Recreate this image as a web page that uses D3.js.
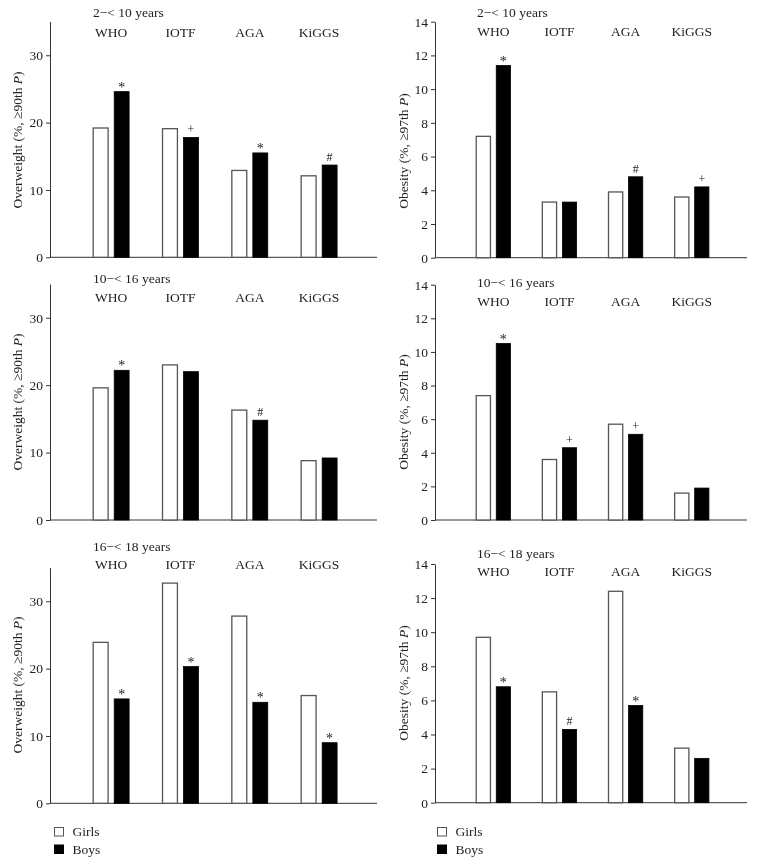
<!DOCTYPE html>
<html>
<head>
<meta charset="utf-8">
<script src="https://cdn.jsdelivr.net/npm/d3@7/dist/d3.min.js"></script>
<style>
  html, body { margin: 0; padding: 0; background: #fff; }
  svg { display: block; filter: grayscale(1); }
  text { font-family: "Liberation Serif", "DejaVu Serif", serif; fill: #222; }
</style>
</head>
<body>
<svg id="chart" width="772" height="865"></svg>
<script>
// ---------------- DATA ----------------
const categories = ["WHO", "IOTF", "AGA", "KiGGS"];
const sexes = ["Girls", "Boys"];
const ageGroups = ["2\u2212< 10 years", "10\u2212< 16 years", "16\u2212< 18 years"];

// Overweight (%, >=90th P), one row per age group
const overweightGirls = [
  [19.2, 19.1, 12.9, 12.1],
  [19.6, 23.0, 16.3, 8.8],
  [23.9, 32.7, 27.8, 16.0]
];
const overweightBoys = [
  [24.6, 17.8, 15.5, 13.7],
  [22.2, 22.0, 14.8, 9.2],
  [15.5, 20.3, 15.0, 9.0]
];
const overweightMarks = [
  ["*", "+", "*", "#"],
  ["*", "", "#", ""],
  ["*", "*", "*", "*"]
];

// Obesity (%, >=97th P)
const obesityGirls = [
  [7.2, 3.3, 3.9, 3.6],
  [7.4, 3.6, 5.7, 1.6],
  [9.7, 6.5, 12.4, 3.2]
];
const obesityBoys = [
  [11.4, 3.3, 4.8, 4.2],
  [10.5, 4.3, 5.1, 1.9],
  [6.8, 4.3, 5.7, 2.6]
];
const obesityMarks = [
  ["*", "", "#", "+"],
  ["*", "+", "+", ""],
  ["*", "#", "*", ""]
];

const overweightTicks = [0, 10, 20, 30];
const obesityTicks = [0, 2, 4, 6, 8, 10, 12, 14];

// ---------------- LAYOUT ----------------
const svg = d3.select("#chart");

const columns = [
  {
    x0: 50, x1: 377, domainMax: 35, ticks: overweightTicks,
    label: ["Overweight (%, \u226590th ", "P", ")"], labelX: 17,
    girls: overweightGirls, boys: overweightBoys, marks: overweightMarks,
    tops: [21.6, 284, 567.6], bases: [257.3, 520, 803.3],
    titleY: [17, 283.3, 551.3], catY: [36.7, 302.3, 568.7],
    labelCY: [140, 402, 685], titleX: 93, legendX: 54
  },
  {
    x0: 435, x1: 747, domainMax: 14, ticks: obesityTicks,
    label: ["Obesity (%, \u226597th ", "P", ")"], labelX: 403,
    girls: obesityGirls, boys: obesityBoys, marks: obesityMarks,
    tops: [21.7, 284.7, 564], bases: [257.7, 520, 802.7],
    titleY: [17.3, 287.3, 557.7], catY: [35.7, 305.7, 575.7],
    labelCY: [151, 412, 683], titleX: 477, legendX: 437
  }
];

const FS = "13.5px";

columns.forEach(col => {
  const w = col.x1 - col.x0;
  const x = d3.scaleBand().domain(categories)
    .range([col.x0 + 0.081 * w, col.x0 + 0.929 * w]);
  const xs = d3.scaleBand().domain(sexes)
    .range([0, x.bandwidth()]).paddingInner(0.29).paddingOuter(0.795);

  ageGroups.forEach((ag, r) => {
    const y = d3.scaleLinear().domain([0, col.domainMax]).range([col.bases[r], col.tops[r]]);
    const g = svg.append("g");

    // y axis
    const ax = g.append("g")
      .attr("transform", `translate(${col.x0},0)`)
      .call(d3.axisLeft(y).tickValues(col.ticks).tickSize(4).tickSizeOuter(0).tickPadding(3));
    ax.select(".domain").attr("stroke", "#333").attr("stroke-width", 1);
    ax.selectAll(".tick line").attr("stroke", "#333");
    ax.selectAll(".tick text")
      .style("font-family", "'Liberation Serif', 'DejaVu Serif', serif")
      .style("font-size", FS).attr("fill", "#222");

    // x baseline
    g.append("line")
      .attr("x1", col.x0).attr("x2", col.x1)
      .attr("y1", y(0)).attr("y2", y(0))
      .attr("stroke", "#333").attr("stroke-width", 1);

    // y label
    const lab = g.append("text")
      .attr("transform", `translate(${col.labelX},${col.labelCY[r]}) rotate(-90)`)
      .attr("text-anchor", "middle")
      .attr("dy", "0.35em")
      .style("font-size", FS);
    lab.append("tspan").text(col.label[0]);
    lab.append("tspan").style("font-style", "italic").text(col.label[1]);
    lab.append("tspan").text(col.label[2]);

    // title
    g.append("text")
      .attr("x", col.titleX).attr("y", col.titleY[r])
      .style("font-size", FS)
      .text(ag);

    // category labels
    g.selectAll(".cat").data(categories).enter().append("text")
      .attr("x", d => x(d) + x.bandwidth() / 2)
      .attr("y", col.catY[r])
      .attr("text-anchor", "middle")
      .style("font-size", FS)
      .text(d => d);

    // bars
    const rows = categories.map((c, i) => ({
      cat: c, Girls: col.girls[r][i], Boys: col.boys[r][i], mark: col.marks[r][i]
    }));

    g.selectAll(".girl").data(rows).enter().append("rect")
      .attr("x", d => x(d.cat) + xs("Girls"))
      .attr("y", d => y(d.Girls))
      .attr("width", xs.bandwidth())
      .attr("height", d => y(0) - y(d.Girls))
      .attr("fill", "#fff").attr("stroke", "#555").attr("stroke-width", 1.3);

    g.selectAll(".boy").data(rows).enter().append("rect")
      .attr("x", d => x(d.cat) + xs("Boys"))
      .attr("y", d => y(d.Boys))
      .attr("width", xs.bandwidth())
      .attr("height", d => y(0) - y(d.Boys))
      .attr("fill", "#000").attr("stroke", "#000").attr("stroke-width", 0.8);

    g.selectAll(".mark").data(rows.filter(d => d.mark)).enter().append("text")
      .attr("x", d => x(d.cat) + xs("Boys") + xs.bandwidth() / 2)
      .attr("y", d => y(d.Boys) - (d.mark === "*" ? 0 : 4))
      .attr("text-anchor", "middle")
      .style("font-size", d => d.mark === "*" ? "14px" : "12px")
      .text(d => d.mark);
  });

  // legend
  const lg = svg.append("g");
  const legendY = [827.5, 845];
  sexes.forEach((s, i) => {
    lg.append("rect")
      .attr("x", col.legendX + 0.5).attr("y", legendY[i])
      .attr("width", 9).attr("height", 8.5)
      .attr("fill", s === "Girls" ? "#fff" : "#000")
      .attr("stroke", s === "Girls" ? "#555" : "#000").attr("stroke-width", 1);
    lg.append("text")
      .attr("x", col.legendX + 18.5).attr("y", legendY[i] + 8.5)
      .style("font-size", FS)
      .text(s);
  });
});
</script>
</body>
</html>
